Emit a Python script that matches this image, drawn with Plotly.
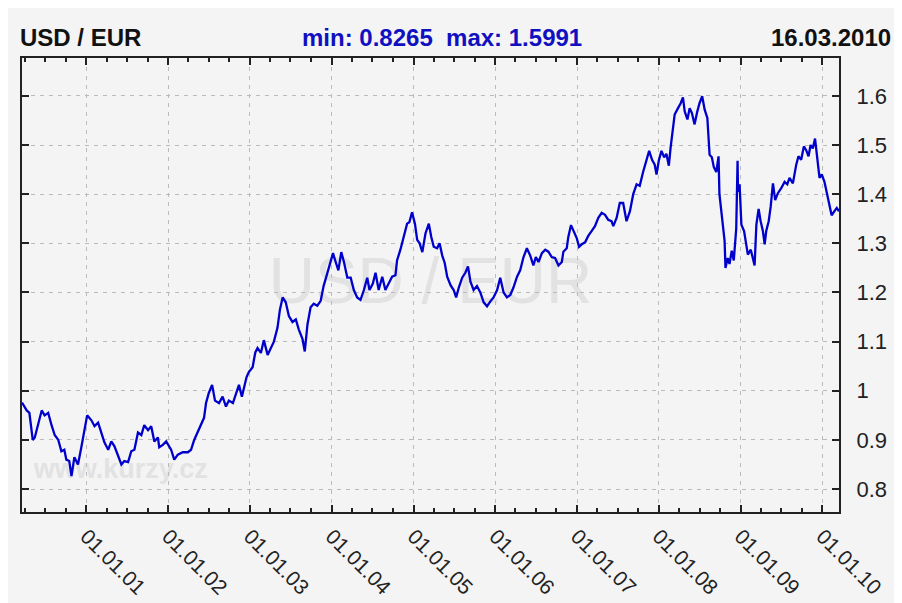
import plotly.graph_objects as go

# ---- data ----
dates = [
    "2000-03-19", "2000-04-09", "2000-04-21", "2000-05-01", "2000-05-06", "2000-05-15", "2000-05-31",
    "2000-06-15", "2000-06-28", "2000-07-14", "2000-07-29", "2000-08-12", "2000-08-28", "2000-09-11",
    "2000-09-24", "2000-10-03", "2000-10-16", "2000-10-26", "2000-11-08", "2000-11-24", "2000-12-09",
    "2000-12-22", "2001-01-04", "2001-01-23", "2001-02-06", "2001-02-22", "2001-03-09", "2001-03-22",
    "2001-04-08", "2001-04-22", "2001-05-06", "2001-05-22", "2001-06-06", "2001-06-19", "2001-07-06",
    "2001-07-20", "2001-08-03", "2001-08-19", "2001-09-03", "2001-09-16", "2001-10-03", "2001-10-17",
    "2001-10-31", "2001-11-16", "2001-11-22", "2001-12-08", "2001-12-23", "2002-01-14", "2002-01-28",
    "2002-02-13", "2002-03-07", "2002-03-30", "2002-04-13", "2002-04-27", "2002-05-13", "2002-05-28",
    "2002-06-10", "2002-06-19", "2002-07-01", "2002-07-16", "2002-07-29", "2002-08-16", "2002-09-01",
    "2002-09-16", "2002-09-29", "2002-10-17", "2002-11-03", "2002-11-13", "2002-11-26", "2002-12-05",
    "2002-12-17", "2002-12-27", "2003-01-13", "2003-01-25", "2003-02-04", "2003-02-19", "2003-03-04",
    "2003-03-21", "2003-04-04", "2003-04-18", "2003-05-04", "2003-05-15", "2003-05-27", "2003-06-10",
    "2003-06-24", "2003-07-10", "2003-07-25", "2003-08-07", "2003-08-24", "2003-09-03", "2003-09-15",
    "2003-09-29", "2003-10-13", "2003-10-29", "2003-11-13", "2003-11-26", "2003-12-13", "2003-12-27",
    "2004-01-07", "2004-01-19", "2004-01-31", "2004-02-13", "2004-02-25", "2004-03-11", "2004-03-26",
    "2004-04-09", "2004-04-24", "2004-05-09", "2004-05-24", "2004-06-08", "2004-06-18", "2004-07-03",
    "2004-07-15", "2004-07-29", "2004-08-14", "2004-08-28", "2004-09-12", "2004-09-27", "2004-10-12",
    "2004-10-19", "2004-11-03", "2004-11-18", "2004-12-03", "2004-12-13", "2004-12-25", "2005-01-07",
    "2005-01-17", "2005-01-28", "2005-02-09", "2005-02-23", "2005-03-10", "2005-03-21", "2005-04-01",
    "2005-04-16", "2005-04-27", "2005-05-09", "2005-05-20", "2005-05-31", "2005-06-15", "2005-06-29",
    "2005-07-10", "2005-07-22", "2005-08-06", "2005-08-20", "2005-09-01", "2005-09-12", "2005-09-26",
    "2005-10-11", "2005-10-26", "2005-11-10", "2005-11-25", "2005-12-10", "2005-12-24", "2006-01-09",
    "2006-01-23", "2006-02-07", "2006-02-22", "2006-03-09", "2006-03-23", "2006-04-08", "2006-04-22",
    "2006-05-07", "2006-05-22", "2006-06-06", "2006-06-20", "2006-07-01", "2006-07-13", "2006-07-28",
    "2006-08-12", "2006-08-26", "2006-09-10", "2006-09-25", "2006-10-10", "2006-10-25", "2006-11-01",
    "2006-11-16", "2006-11-23", "2006-12-05", "2006-12-20", "2006-12-31", "2007-01-10", "2007-01-22",
    "2007-02-06", "2007-02-20", "2007-03-07", "2007-03-22", "2007-04-06", "2007-04-21", "2007-05-06",
    "2007-05-20", "2007-06-04", "2007-06-12", "2007-06-27", "2007-07-11", "2007-07-26", "2007-08-10",
    "2007-08-25", "2007-09-09", "2007-09-24", "2007-10-08", "2007-10-23", "2007-11-07", "2007-11-19",
    "2007-12-02", "2007-12-14", "2007-12-22", "2008-01-01", "2008-01-13", "2008-01-25", "2008-02-04",
    "2008-02-15", "2008-02-23", "2008-03-02", "2008-03-12", "2008-03-27", "2008-04-08", "2008-04-18",
    "2008-04-26", "2008-05-08", "2008-05-18", "2008-05-28", "2008-06-09", "2008-06-21", "2008-07-01",
    "2008-07-13", "2008-07-24", "2008-08-05", "2008-08-15", "2008-08-25", "2008-09-03", "2008-09-14",
    "2008-09-24", "2008-09-28", "2008-10-06", "2008-10-13", "2008-10-21", "2008-10-25", "2008-11-04",
    "2008-11-12", "2008-11-22", "2008-12-01", "2008-12-07", "2008-12-12", "2008-12-18", "2008-12-20",
    "2008-12-27", "2009-01-04", "2009-01-16", "2009-01-26", "2009-02-02", "2009-02-15", "2009-02-25",
    "2009-03-04", "2009-03-12", "2009-03-22", "2009-03-31", "2009-04-10", "2009-04-18", "2009-04-25",
    "2009-05-06", "2009-05-15", "2009-05-25", "2009-06-04", "2009-06-16", "2009-07-01", "2009-07-16",
    "2009-07-28", "2009-08-07", "2009-08-22", "2009-09-06", "2009-09-16", "2009-09-28", "2009-10-10",
    "2009-10-20", "2009-10-31", "2009-11-09", "2009-11-19", "2009-11-29", "2009-12-08", "2009-12-19",
    "2009-12-29", "2010-01-10", "2010-01-22", "2010-02-01", "2010-02-11", "2010-02-23", "2010-03-06",
    "2010-03-16",
]

rates = [
    0.976, 0.960, 0.955, 0.910, 0.900, 0.905, 0.935,
    0.960, 0.950, 0.955, 0.930, 0.910, 0.900, 0.877,
    0.880, 0.860, 0.857, 0.8265, 0.865, 0.850, 0.885,
    0.920, 0.950, 0.940, 0.928, 0.935, 0.915, 0.895,
    0.880, 0.897, 0.887, 0.867, 0.850, 0.857, 0.855,
    0.877, 0.880, 0.915, 0.910, 0.930, 0.920, 0.928,
    0.897, 0.905, 0.885, 0.890, 0.897, 0.880, 0.860,
    0.870, 0.875, 0.875, 0.880, 0.900, 0.917, 0.935,
    0.945, 0.975, 0.995, 1.012, 0.980, 0.975, 0.988,
    0.968, 0.980, 0.975, 0.998, 1.012, 0.988, 1.005,
    1.028, 1.038, 1.048, 1.078, 1.087, 1.077, 1.103,
    1.073, 1.087, 1.100, 1.128, 1.165, 1.190, 1.180,
    1.152, 1.140, 1.145, 1.125, 1.105, 1.080, 1.135,
    1.170, 1.177, 1.173, 1.183, 1.213, 1.240, 1.260,
    1.280, 1.262, 1.245, 1.282, 1.262, 1.230, 1.230,
    1.205, 1.190, 1.185, 1.205, 1.230, 1.205, 1.218,
    1.240, 1.205, 1.232, 1.205, 1.218, 1.232, 1.235,
    1.265, 1.287, 1.313, 1.340, 1.343, 1.363, 1.340,
    1.307, 1.300, 1.282, 1.320, 1.340, 1.313, 1.293,
    1.290, 1.300, 1.275, 1.260, 1.232, 1.215, 1.205,
    1.190, 1.210, 1.230, 1.240, 1.253, 1.222, 1.205,
    1.213, 1.200, 1.180, 1.172, 1.182, 1.190, 1.205,
    1.230, 1.200, 1.190, 1.195, 1.210, 1.232, 1.245,
    1.272, 1.290, 1.275, 1.255, 1.272, 1.262, 1.280,
    1.287, 1.283, 1.272, 1.270, 1.255, 1.262, 1.283,
    1.290, 1.313, 1.337, 1.323, 1.310, 1.293, 1.298,
    1.302, 1.315, 1.325, 1.335, 1.352, 1.362, 1.358,
    1.348, 1.345, 1.335, 1.352, 1.382, 1.382, 1.345,
    1.365, 1.400, 1.420, 1.417, 1.445, 1.468, 1.488,
    1.470, 1.460, 1.440, 1.468, 1.488, 1.475, 1.482,
    1.458, 1.495, 1.525, 1.562, 1.575, 1.585, 1.597,
    1.568, 1.552, 1.575, 1.565, 1.542, 1.568, 1.585,
    1.5991, 1.572, 1.555, 1.480, 1.475, 1.455, 1.445,
    1.477, 1.400, 1.370, 1.345, 1.305, 1.250, 1.270,
    1.258, 1.285, 1.265, 1.298, 1.330, 1.468, 1.405,
    1.420, 1.338, 1.325, 1.300, 1.277, 1.287, 1.267,
    1.255, 1.338, 1.370, 1.345, 1.325, 1.298, 1.325,
    1.345, 1.375, 1.422, 1.388, 1.402, 1.412, 1.425,
    1.420, 1.433, 1.422, 1.460, 1.477, 1.470, 1.497,
    1.490, 1.477, 1.500, 1.493, 1.513, 1.470, 1.433,
    1.440, 1.425, 1.400, 1.375, 1.357, 1.365, 1.372,
    1.365,
]

tick_dates = ["2001-01-01", "2002-01-01", "2003-01-01", "2004-01-01", "2005-01-01",
              "2006-01-01", "2007-01-01", "2008-01-01", "2009-01-01", "2010-01-01"]
tick_labels = ["01.01.01", "01.01.02", "01.01.03", "01.01.04", "01.01.05",
               "01.01.06", "01.01.07", "01.01.08", "01.01.09", "01.01.10"]

title_left = "USD / EUR"
title_mid = "min: 0.8265  max: 1.5991"
title_right = "16.03.2010"
watermark_big = "USD / EUR"
watermark_small = "www.kurzy.cz"

FONT = "Liberation Sans, Arial, sans-serif"
BG = "#f4f4f4"
AXC = "#222222"
GRID = "#bbbbbb"

fig = go.Figure(
    go.Scatter(
        x=dates, y=rates, mode="lines",
        line=dict(color="#0000cc", width=2.3),
        hoverinfo="skip", showlegend=False,
    )
)

fig.update_layout(
    width=902, height=603,
    margin=dict(l=13, r=71, t=50, b=97),
    paper_bgcolor=BG, plot_bgcolor=BG,
    font=dict(family=FONT, color=AXC, size=21),
    showlegend=False,
)

fig.update_xaxes(
    type="date",
    range=["2000-03-19", "2010-03-16"],
    tickmode="array", tickvals=tick_dates, ticktext=tick_labels,
    tickangle=45,
    ticks="inside", ticklen=7, tickwidth=2, tickcolor=AXC,
    tickfont=dict(size=21, color=AXC, family=FONT),
    ticklabelstandoff=2,
    showline=True, linecolor=AXC, linewidth=2, mirror="ticks",
    showgrid=True, gridcolor=GRID, gridwidth=1, griddash="4px,5px",
    zeroline=False,
    minor=dict(ticks="inside", ticklen=4, tickwidth=1.5, tickcolor=AXC,
               dtick="M3", tick0="2000-01-01", showgrid=False),
)

fig.update_yaxes(
    side="right",
    range=[0.7534, 1.677],
    tick0=0.8, dtick=0.1,
    ticks="inside", ticklen=7, tickwidth=2, tickcolor=AXC,
    tickfont=dict(size=22, color=AXC, family=FONT),
    ticklabelstandoff=11,
    showline=True, linecolor=AXC, linewidth=2, mirror="ticks",
    showgrid=True, gridcolor=GRID, gridwidth=1, griddash="4px,5px",
    zeroline=False,
)

# watermarks drawn below the line (subplot-referenced shapes with labels)
fig.add_shape(
    type="rect", xref="x domain", yref="y domain",
    x0=0.25, x1=0.75, y0=0.47, y1=0.574, layer="below",
    line=dict(width=0), fillcolor="rgba(0,0,0,0)",
    label=dict(text=watermark_big, textposition="middle center",
               font=dict(family=FONT, size=64, color="#e2e2e2")),
)
fig.add_shape(
    type="rect", xref="x domain", yref="y domain",
    x0=0.0, x1=0.242, y0=0.064, y1=0.137, layer="below",
    line=dict(width=0), fillcolor="rgba(0,0,0,0)",
    label=dict(text="<b>" + watermark_small + "</b>", textposition="middle center",
               font=dict(family=FONT, size=27, color="#e2e2e2")),
)

# header texts
fig.add_annotation(text="<b>" + title_left + "</b>", xref="paper", yref="paper",
                   x=-0.0049, y=1.046, xanchor="left", yanchor="middle", showarrow=False,
                   font=dict(family=FONT, size=24, color="#111111"))
fig.add_annotation(text="<b>" + title_mid + "</b>", xref="paper", yref="paper",
                   x=0.514, y=1.046, xanchor="center", yanchor="middle", showarrow=False,
                   font=dict(family=FONT, size=24, color="#1010c0"))
fig.add_annotation(text="<b>" + title_right + "</b>", xref="paper", yref="paper",
                   x=1.066, y=1.046, xanchor="right", yanchor="middle", showarrow=False,
                   font=dict(family=FONT, size=24, color="#111111"))

fig.write_html("out.html")
